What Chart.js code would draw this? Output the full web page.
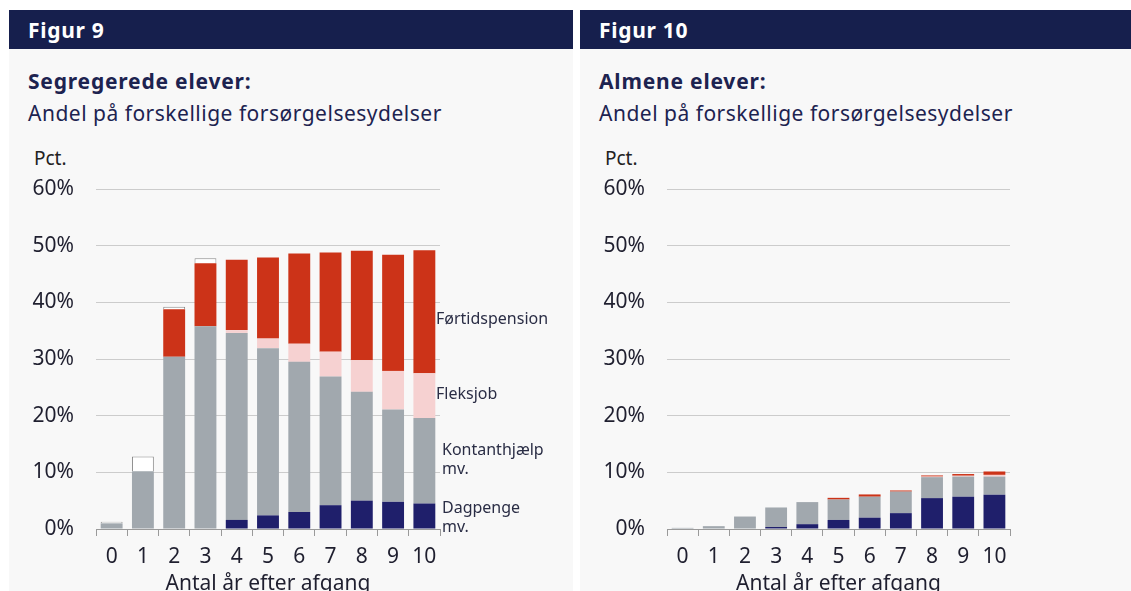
<!DOCTYPE html>
<html>
<head>
<meta charset="utf-8">
<script src="https://cdn.jsdelivr.net/npm/chart.js@4/dist/chart.umd.min.js"></script>
<style>
  body { margin: 0; width: 1131px; height: 591px; overflow: hidden; position: relative; background: #fff; font-family: "Noto Sans", Lato, sans-serif; color: #1d2350; }
  .panel { position: absolute; top: 10px; height: 600px; background: #f8f8f8; }
  .head { height: 39px; line-height: 40px; background: #161f4d; color: #fff; font-weight: bold; font-size: 21px; letter-spacing: 0.7px; padding-left: 19px; }
  .t1 { position: absolute; left: 19px; top: 59px; font-weight: bold; font-size: 21px; letter-spacing: 0.8px; line-height: 24px; }
  .t2 { position: absolute; left: 19px; top: 91px; font-size: 21px; letter-spacing: 0.5px; line-height: 24px; }
  .pct { position: absolute; left: 25px; top: 136px; font-size: 19px; line-height: 24px; color: #222; }
  canvas { position: absolute; left: 0; top: 130px; }
</style>
</head>
<body>
<div class="panel" style="left:9px;width:564px">
  <div class="head">Figur 9</div>
  <div class="t1">Segregerede elever:</div>
  <div class="t2">Andel på forskellige forsørgelsesydelser</div>
  <div class="pct">Pct.</div>
  <canvas id="fig9" width="564" height="470"></canvas>
</div>
<div class="panel" style="left:580px;width:551px">
  <div class="head">Figur 10</div>
  <div class="t1">Almene elever:</div>
  <div class="t2">Andel på forskellige forsørgelsesydelser</div>
  <div class="pct">Pct.</div>
  <canvas id="fig10" width="551" height="470"></canvas>
</div>
<script>
// years after leaving school
var years = ['0', '1', '2', '3', '4', '5', '6', '7', '8', '9', '10'];
var seriesNames = ['Dagpenge mv.', 'Kontanthjælp mv.', 'Fleksjob', 'Førtidspension', 'Øvrige'];
var yTicks = [0, 10, 20, 30, 40, 50, 60];

// Figur 9 - segregerede elever (pct.)
var dagpenge9 = [0, 0, 0, 0, 1.6, 2.4, 3.0, 4.2, 5.0, 4.8, 4.5];
var kontant9 = [1.0, 10.2, 30.4, 35.8, 33.0, 29.5, 26.5, 22.7, 19.2, 16.3, 15.1];
var fleks9 = [0, 0, 0, 0, 0.5, 1.7, 3.2, 4.4, 5.6, 6.8, 7.9];
var foertid9 = [0, 0, 8.4, 11.1, 12.4, 14.3, 15.9, 17.5, 19.3, 20.5, 21.7];
var oevrige9 = [0.3, 2.6, 0.4, 0.9, 0, 0, 0, 0, 0, 0, 0];

// Figur 10 - almene elever (pct.)
var dagpenge10 = [0, 0, 0, 0.35, 0.85, 1.6, 2.0, 2.8, 5.45, 5.7, 6.05];
var kontant10 = [0.2, 0.5, 2.2, 3.45, 3.9, 3.6, 3.7, 3.8, 3.7, 3.55, 3.2];
var fleks10 = [0, 0, 0, 0, 0, 0, 0, 0, 0.1, 0.15, 0.3];
var foertid10 = [0, 0, 0, 0, 0, 0.3, 0.4, 0.2, 0.2, 0.3, 0.6];
var oevrige10 = [0, 0, 0, 0, 0, 0, 0, 0, 0, 0, 0];

var colors = ['#1f1f6b', '#a1a8ae', '#f6d1d1', '#cc3318', '#ffffff'];
var FONT = '"Noto Sans", Lato, sans-serif';

// labels to the right of the last bar (figur 9 only)
var sideLabels = {
  id: 'sideLabels',
  afterDatasetsDraw: function(chart, args, opts) {
    if (!opts.items) return;
    var ctx = chart.ctx;
    var y = chart.scales.y;
    ctx.save();
    ctx.font = '16px ' + FONT;
    ctx.fillStyle = '#2a2d45';
    ctx.textBaseline = 'middle';
    opts.items.forEach(function(it) {
      it.lines.forEach(function(line, i) {
        ctx.fillText(line, chart.chartArea.right + it.dx, y.getPixelForValue(it.at) + i * 19);
      });
    });
    ctx.restore();
  }
};

function makeChart(id, data, padRight, items) {
  var datasets = data.map(function(d, i) {
    return {
      label: seriesNames[i],
      data: d,
      backgroundColor: colors[i],
      borderColor: i == 4 ? '#8a8a8a' : colors[i],
      borderWidth: i == 4 ? 1 : 0,
      barPercentage: 0.7,
      categoryPercentage: 1.0
    };
  });

  return new Chart(document.getElementById(id).getContext('2d'), {
    type: 'bar',
    data: { labels: years, datasets: datasets },
    plugins: [sideLabels],
    options: {
      responsive: false,
      animation: false,
      layout: { padding: { top: 49, right: padRight, left: 0, bottom: 0 } },
      plugins: {
        legend: { display: false },
        tooltip: { enabled: false },
        sideLabels: { items: items }
      },
      scales: {
        x: {
          stacked: true,
          grid: { offset: true, drawOnChartArea: false, drawTicks: true, tickLength: 7, color: '#9a9a9a' },
          border: { color: '#9a9a9a' },
          ticks: { color: '#1f1f2f', font: { family: FONT, size: 21 }, padding: 8, maxRotation: 0 },
          title: { display: true, text: 'Antal år efter afgang', color: '#1f1f2f', font: { family: FONT, size: 21 }, padding: { top: 0, bottom: 13 } },
          afterFit: function(s) { s.height = 81; }
        },
        y: {
          stacked: true,
          min: 0,
          max: 60,
          afterBuildTicks: function(s) { s.ticks = yTicks.map(function(v) { return { value: v }; }); },
          grid: { drawTicks: false, color: '#cccccc' },
          border: { display: false },
          ticks: { color: '#1f1f2f', font: { family: FONT, size: 21 }, padding: 22, callback: function(v) { return v + '%'; } },
          afterFit: function(s) { s.width = 87; }
        }
      }
    }
  });
}

makeChart('fig9', [dagpenge9, kontant9, fleks9, foertid9, oevrige9], 133, [
  { lines: ['Førtidspension'], at: 36.9, dx: -4 },
  { lines: ['Fleksjob'], at: 23.8, dx: -4 },
  { lines: ['Kontanthjælp', 'mv.'], at: 13.8, dx: 2 },
  { lines: ['Dagpenge', 'mv.'], at: 3.7, dx: 2 }
]);
makeChart('fig10', [dagpenge10, kontant10, fleks10, foertid10, oevrige10], 121, null);
</script>
</body>
</html>
